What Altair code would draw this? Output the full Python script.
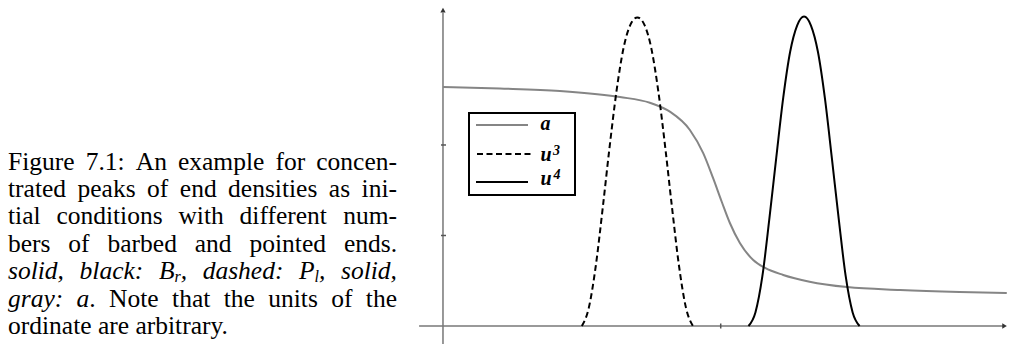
import altair as alt
import pandas as pd

# ---------------- values ----------------
# concentration a (gray)
a_x = [0.0, 2.05, 4.21, 6.37, 7.45, 8.17, 8.89, 9.37, 9.73, 10.04, 10.33, 10.69,
       11.17, 11.6, 12.25, 13.2, 14.55, 16.46, 18.6, 20.3]
a_y = [2.64, 2.624, 2.597, 2.53, 2.467, 2.368, 2.166, 1.91, 1.63, 1.37, 1.138, 0.917,
       0.729, 0.641, 0.564, 0.49, 0.43, 0.398, 0.376, 0.365]

# end density u3 (dashed peak)
u3_x = [5.0, 5.25, 5.5, 5.75, 6.0, 6.25, 6.5, 6.75, 7.0, 7.25, 7.5, 7.75, 8.0, 8.25, 8.5, 8.75, 9.0]
u3_y = [0.0, 0.2, 0.66, 1.3, 1.98, 2.6, 3.07, 3.33, 3.41, 3.33, 3.07, 2.6, 1.98, 1.3, 0.66, 0.2, 0.0]

# end density u4 (solid peak)
u4_x = [11.0, 11.25, 11.5, 11.75, 12.0, 12.25, 12.5, 12.75, 13.0, 13.25, 13.5, 13.75, 14.0,
        14.25, 14.5, 14.75, 15.0]
u4_y = [0.0, 0.15, 0.55, 1.18, 1.86, 2.52, 3.03, 3.32, 3.42, 3.32, 3.03, 2.52, 1.86, 1.18, 0.55, 0.15, 0.0]

y_ticks = [1, 2]
x_ticks = [10]

legend_labels = ["a", "u", "3", "u", "4"]

# caption text; "*" toggles italic, "_" marks a one-letter subscript
caption_lines = [
    "Figure 7.1: An example for concen-",
    "trated peaks of end densities as ini-",
    "tial conditions with different num-",
    "bers of barbed and pointed ends.",
    "*solid, black: B_r, dashed: P_l, solid,*",
    "*gray: a*. Note that the units of the",
    "ordinate are arbitrary.",
]

# ---------------- layout ----------------
W, H = 1009, 345
X_DOMAIN = [-15.95, 20.38]
Y_DOMAIN = [-0.21, 3.602]
FONT = "Liberation Serif"

CAP_LEFT, CAP_RIGHT = 8, 397
LINE0, LEAD = 169.5, 27.4
CAP_SIZE, SUB_SIZE, SUB_DROP = 25.5, 16, 3

# advance widths (1/1000 em) of the serif face, upright and italic
ROMAN = dict(zip("abcdefghijklmnopqrstuvwxyz",
                 [444, 500, 444, 500, 444, 333, 500, 500, 278, 278, 500, 278, 778,
                  500, 500, 500, 500, 333, 389, 278, 500, 500, 722, 500, 500, 444]))
ROMAN.update({"F": 556, "A": 722, "N": 722, "B": 667, "P": 556, "1": 500, "7": 500,
              ".": 250, ",": 250, ":": 278, "-": 333})
ITALIC = dict(zip("abcdefghijklmnopqrstuvwxyz",
                  [500, 500, 444, 500, 444, 278, 500, 500, 278, 278, 444, 278, 722,
                   500, 500, 500, 500, 389, 389, 278, 500, 444, 667, 444, 444, 389]))
ITALIC.update({"B": 611, "P": 611, ".": 250, ",": 250, ":": 333, "-": 333})
SPACE = 250


def seg_width(text, style):
    table = ROMAN if style == "n" else ITALIC
    size = SUB_SIZE if style == "s" else CAP_SIZE
    return sum(table.get(c, 500) for c in text) / 1000 * size


def parse(line):
    """Split a caption line into words, each a list of (text, style) pieces."""
    words, cur, italic, sub = [], [], False, False
    buf = ""

    def flush():
        nonlocal buf
        if buf:
            cur.append((buf, "i" if italic else "n"))
            buf = ""

    for ch in line:
        if ch == "*":
            flush()
            italic = not italic
        elif ch == "_":
            flush()
            sub = True
        elif ch == " ":
            flush()
            if cur:
                words.append(cur)
            cur = []
        elif sub:
            cur.append((ch, "s"))
            sub = False
        else:
            buf += ch
    flush()
    if cur:
        words.append(cur)
    return words


rows = []
for li, line in enumerate(caption_lines):
    words = parse(line)
    widths = [sum(seg_width(t, s) for t, s in w) for w in words]
    justified = li < len(caption_lines) - 1
    if justified and len(words) > 1:
        gap = (CAP_RIGHT - CAP_LEFT - sum(widths)) / (len(words) - 1)
    else:
        gap = SPACE / 1000 * CAP_SIZE
    x = CAP_LEFT
    base = LINE0 + LEAD * li
    for w, ww in zip(words, widths):
        off = x
        for t, s in w:
            rows.append({"text": t, "px": off, "py": base + (SUB_DROP if s == "s" else 0),
                         "fs": SUB_SIZE if s == "s" else CAP_SIZE,
                         "it": 0 if s == "n" else 1})
            off += seg_width(t, s)
        x += ww + gap
cap = pd.DataFrame(rows)


def xs():
    return alt.Scale(domain=X_DOMAIN, nice=False, zero=False)


def ys():
    return alt.Scale(domain=Y_DOMAIN, nice=False, zero=False)


def X(field):
    return alt.X(field, type="quantitative", scale=xs(), axis=None)


def Y(field):
    return alt.Y(field, type="quantitative", scale=ys(), axis=None)


one = alt.Data(values=[{"k": 0}])

# axes drawn as plain rules with arrow heads
axes_df = pd.DataFrame({"x": [0.0, -0.86], "x2": [0.0, 20.2],
                        "y": [-0.2, 0.0], "y2": [3.46, 0.0]})
axes = alt.Chart(axes_df).mark_rule(color="#777777", strokeWidth=1.5).encode(
    x=X("x"), x2="x2", y=Y("y"), y2="y2")

ytick_df = pd.DataFrame({"y": y_ticks})
yt = alt.Chart(ytick_df).mark_rule(color="#555555", strokeWidth=1.5).encode(
    x=alt.value(441), x2=alt.value(446), y=Y("y"))
xtick_df = pd.DataFrame({"x": x_ticks})
xt = alt.Chart(xtick_df).mark_rule(color="#555555", strokeWidth=1.5).encode(
    x=X("x"), y=alt.value(323.5), y2=alt.value(328.5))

arrow_up = alt.Chart(pd.DataFrame({"x": [0.0], "y": [3.49]})).mark_point(
    shape="triangle-up", filled=True, color="#333333", size=28, opacity=1).encode(x=X("x"), y=Y("y"))
arrow_right = alt.Chart(pd.DataFrame({"x": [20.22], "y": [0.0]})).mark_point(
    shape="triangle-right", filled=True, color="#333333", size=28, opacity=1).encode(x=X("x"), y=Y("y"))

a_line = alt.Chart(pd.DataFrame({"x": a_x, "y": a_y})).mark_line(
    color="#858585", strokeWidth=2, interpolate="monotone").encode(x=X("x"), y=Y("y"))
u3_line = alt.Chart(pd.DataFrame({"x": u3_x, "y": u3_y})).mark_line(
    color="black", strokeWidth=2, strokeDash=[6, 3.5], interpolate="monotone").encode(x=X("x"), y=Y("y"))
u4_line = alt.Chart(pd.DataFrame({"x": u4_x, "y": u4_y})).mark_line(
    color="black", strokeWidth=2, interpolate="monotone").encode(x=X("x"), y=Y("y"))

# legend box
box = alt.Chart(one).mark_rect(fill="white", stroke="black", strokeWidth=2).encode(
    x=alt.value(469), x2=alt.value(575), y=alt.value(113), y2=alt.value(195))
sample_a = alt.Chart(one).mark_rule(color="#858585", strokeWidth=2).encode(
    x=alt.value(476), x2=alt.value(528), y=alt.value(125))
sample_u3 = alt.Chart(one).mark_rule(color="black", strokeWidth=2, strokeDash=[6, 3.5]).encode(
    x=alt.value(477), x2=alt.value(531), y=alt.value(154))
sample_u4 = alt.Chart(one).mark_rule(color="black", strokeWidth=2).encode(
    x=alt.value(476), x2=alt.value(528), y=alt.value(182))

legend_df = pd.DataFrame({
    "text": legend_labels,
    "px": [540.5, 540.5, 553.0, 540.5, 553.5],
    "py": [130.0, 160.5, 155.0, 184.5, 179.0],
    "fs": [20, 20, 14, 20, 14],
})
legend_text = alt.Chart(legend_df).mark_text(
    font=FONT, fontStyle="italic", fontWeight="bold", align="left", baseline="alphabetic",
    color="black").encode(
    x=alt.X("px:Q", scale=None, axis=None), y=alt.Y("py:Q", scale=None, axis=None),
    size=alt.Size("fs:Q", scale=None, legend=None), text="text:N")


def caption_layer(italic):
    d = cap[cap["it"] == italic]
    return alt.Chart(d).mark_text(
        font=FONT, fontStyle="italic" if italic else "normal", align="left",
        baseline="alphabetic", color="black").encode(
        x=alt.X("px:Q", scale=None, axis=None), y=alt.Y("py:Q", scale=None, axis=None),
        size=alt.Size("fs:Q", scale=None, legend=None), text="text:N")


chart = alt.layer(
    axes, yt, xt, arrow_up, arrow_right,
    a_line, u3_line, u4_line,
    box, sample_a, sample_u3, sample_u4, legend_text,
    caption_layer(0), caption_layer(1),
).resolve_scale(x="independent", y="independent").properties(
    width=W, height=H, padding=0, autosize=alt.AutoSizeParams(type="none"),
    background="white",
).configure_view(stroke=None)

chart.save("out.html", embed_options={"renderer": "svg", "actions": False})
